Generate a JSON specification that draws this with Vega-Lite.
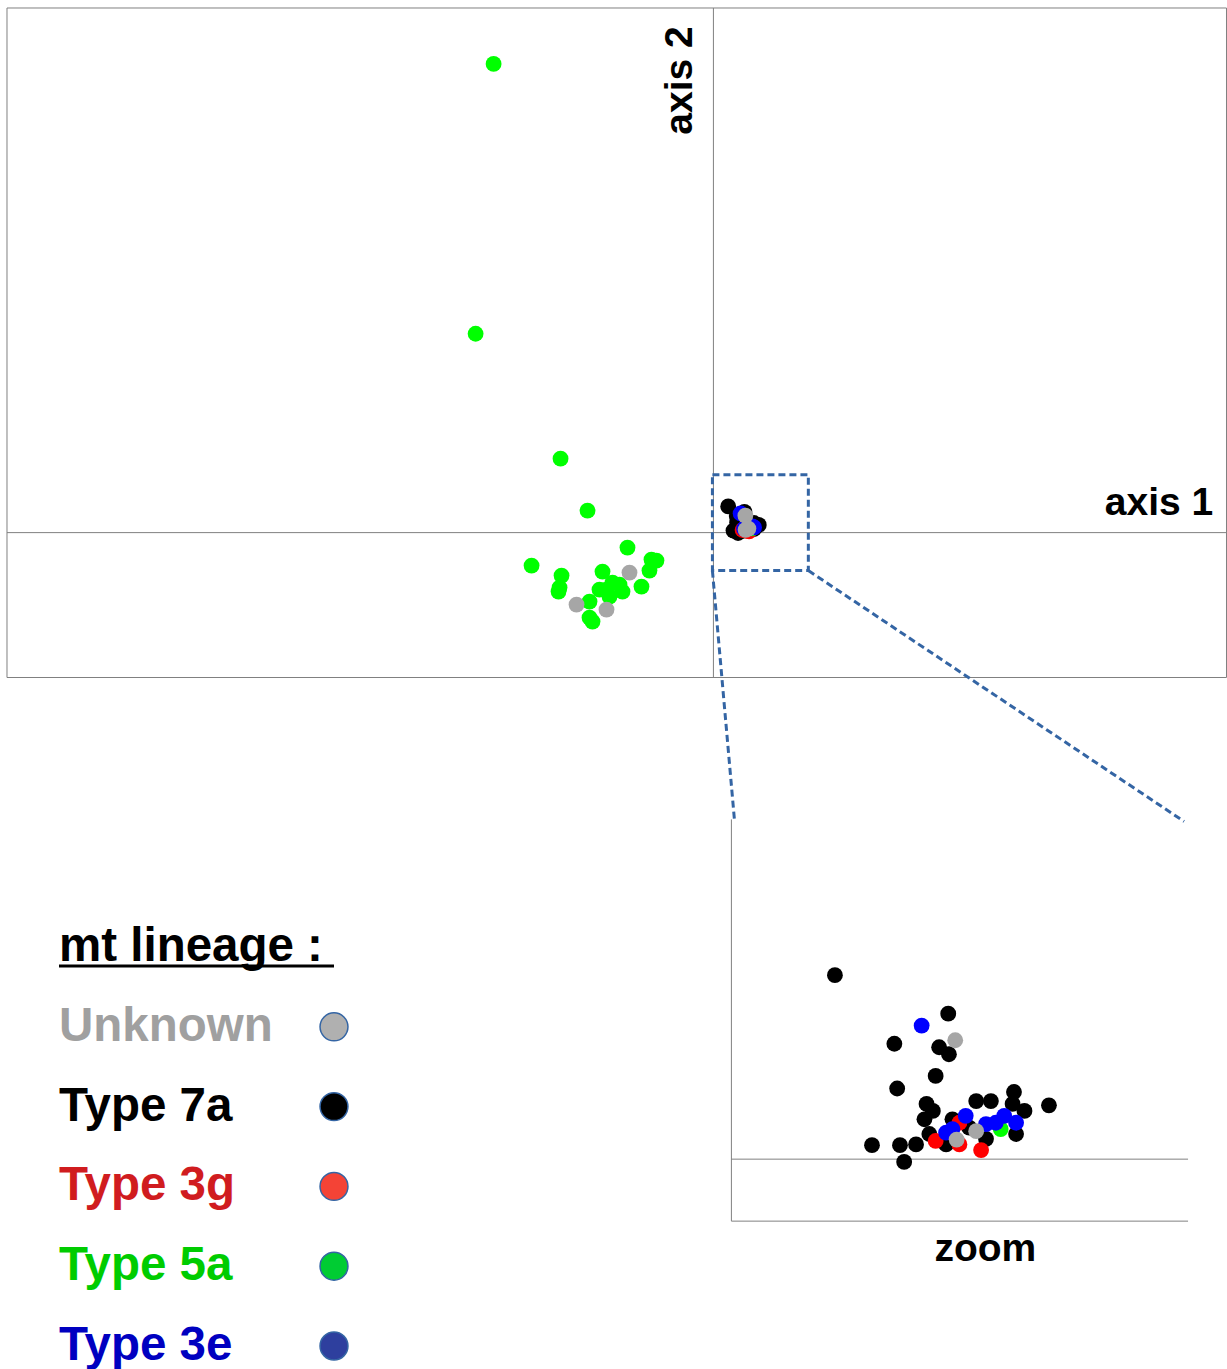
{
  "$schema": "https://vega.github.io/schema/vega-lite/v6.json",
  "width": 1227,
  "height": 1369,
  "autosize": {"type": "fit", "contains": "padding"},
  "padding": 0,
  "background": "white",
  "config": {"view": {"stroke": null}, "font": "Liberation Sans"},
  "datasets": {
    "pts": [
      {"x": 0.148, "y": 0.263, "lineage": "Type 7a"},
      {"x": 0.310, "y": 0.208, "lineage": "Type 7a"},
      {"x": 0.233, "y": 0.165, "lineage": "Type 7a"},
      {"x": 0.297, "y": 0.160, "lineage": "Type 7a"},
      {"x": 0.311, "y": 0.150, "lineage": "Type 7a"},
      {"x": 0.292, "y": 0.119, "lineage": "Type 7a"},
      {"x": 0.237, "y": 0.101, "lineage": "Type 7a"},
      {"x": 0.279, "y": 0.079, "lineage": "Type 7a"},
      {"x": 0.288, "y": 0.069, "lineage": "Type 7a"},
      {"x": 0.276, "y": 0.057, "lineage": "Type 7a"},
      {"x": 0.350, "y": 0.083, "lineage": "Type 7a"},
      {"x": 0.371, "y": 0.083, "lineage": "Type 7a"},
      {"x": 0.404, "y": 0.096, "lineage": "Type 7a"},
      {"x": 0.454, "y": 0.077, "lineage": "Type 7a"},
      {"x": 0.419, "y": 0.069, "lineage": "Type 7a"},
      {"x": 0.402, "y": 0.079, "lineage": "Type 7a"},
      {"x": 0.316, "y": 0.057, "lineage": "Type 7a"},
      {"x": 0.201, "y": 0.020, "lineage": "Type 7a"},
      {"x": 0.241, "y": 0.020, "lineage": "Type 7a"},
      {"x": 0.264, "y": 0.021, "lineage": "Type 7a"},
      {"x": 0.283, "y": 0.036, "lineage": "Type 7a"},
      {"x": 0.247, "y": -0.004, "lineage": "Type 7a"},
      {"x": 0.407, "y": 0.036, "lineage": "Type 7a"},
      {"x": 0.364, "y": 0.029, "lineage": "Type 7a"},
      {"x": 0.307, "y": 0.021, "lineage": "Type 7a"},
      {"x": 0.340, "y": 0.045, "lineage": "Type 7a"},
      {"x": 0.292, "y": 0.026, "lineage": "Type 3g"},
      {"x": 0.326, "y": 0.021, "lineage": "Type 3g"},
      {"x": 0.357, "y": 0.013, "lineage": "Type 3g"},
      {"x": 0.326, "y": 0.052, "lineage": "Type 3g"},
      {"x": -2.20, "y": 4.69, "lineage": "Type 5a"},
      {"x": -2.38, "y": 1.99, "lineage": "Type 5a"},
      {"x": -1.53, "y": 0.74, "lineage": "Type 5a"},
      {"x": -1.26, "y": 0.22, "lineage": "Type 5a"},
      {"x": -1.82, "y": -0.33, "lineage": "Type 5a"},
      {"x": -1.52, "y": -0.43, "lineage": "Type 5a"},
      {"x": -1.55, "y": -0.59, "lineage": "Type 5a"},
      {"x": -1.54, "y": -0.55, "lineage": "Type 5a"},
      {"x": -0.86, "y": -0.15, "lineage": "Type 5a"},
      {"x": -0.62, "y": -0.27, "lineage": "Type 5a"},
      {"x": -0.57, "y": -0.28, "lineage": "Type 5a"},
      {"x": -0.64, "y": -0.38, "lineage": "Type 5a"},
      {"x": -1.11, "y": -0.39, "lineage": "Type 5a"},
      {"x": -0.72, "y": -0.54, "lineage": "Type 5a"},
      {"x": -1.07, "y": -0.57, "lineage": "Type 5a"},
      {"x": -0.94, "y": -0.52, "lineage": "Type 5a"},
      {"x": -0.91, "y": -0.59, "lineage": "Type 5a"},
      {"x": -1.01, "y": -0.50, "lineage": "Type 5a"},
      {"x": -1.14, "y": -0.57, "lineage": "Type 5a"},
      {"x": -1.24, "y": -0.69, "lineage": "Type 5a"},
      {"x": -1.24, "y": -0.85, "lineage": "Type 5a"},
      {"x": -1.21, "y": -0.89, "lineage": "Type 5a"},
      {"x": -1.04, "y": -0.64, "lineage": "Type 5a"},
      {"x": 0.385, "y": 0.043, "lineage": "Type 5a"},
      {"x": 0.272, "y": 0.191, "lineage": "Type 3e"},
      {"x": 0.335, "y": 0.062, "lineage": "Type 3e"},
      {"x": 0.307, "y": 0.038, "lineage": "Type 3e"},
      {"x": 0.316, "y": 0.043, "lineage": "Type 3e"},
      {"x": 0.364, "y": 0.050, "lineage": "Type 3e"},
      {"x": 0.390, "y": 0.062, "lineage": "Type 3e"},
      {"x": 0.407, "y": 0.052, "lineage": "Type 3e"},
      {"x": 0.378, "y": 0.052, "lineage": "Type 3e"},
      {"x": -0.84, "y": -0.40, "lineage": "Unknown"},
      {"x": -1.37, "y": -0.72, "lineage": "Unknown"},
      {"x": -1.07, "y": -0.77, "lineage": "Unknown"},
      {"x": 0.320, "y": 0.170, "lineage": "Unknown"},
      {"x": 0.322, "y": 0.028, "lineage": "Unknown"},
      {"x": 0.350, "y": 0.040, "lineage": "Unknown"}
    ],
    "leg": [
      {"lineage": "Unknown"},
      {"lineage": "Type 7a"},
      {"lineage": "Type 3g"},
      {"lineage": "Type 5a"},
      {"lineage": "Type 3e"}
    ]
  },
  "layer": [
    {
      "layer": [
        {
          "data": {"values": [{}]},
          "mark": {"type": "rect", "filled": false, "color": "#808080", "strokeWidth": 1},
          "encoding": {
            "x": {"datum": -7.07, "type": "quantitative", "scale": {"domain": [-7.14, 5.13], "nice": false, "zero": false}, "axis": null},
            "x2": {"datum": 5.135},
            "y": {"datum": 5.25, "type": "quantitative", "scale": {"domain": [-8.36, 5.33], "nice": false, "zero": false}, "axis": null},
            "y2": {"datum": -1.45}
          }
        },
        {
          "data": {"values": [{}]},
          "mark": {"type": "rule", "color": "#808080", "strokeWidth": 1},
          "encoding": {
            "x": {"datum": 0, "type": "quantitative", "scale": {"domain": [-7.14, 5.13], "nice": false, "zero": false}, "axis": null},
            "y": {"datum": 5.25, "type": "quantitative", "scale": {"domain": [-8.36, 5.33], "nice": false, "zero": false}, "axis": null},
            "y2": {"datum": -1.45}
          }
        },
        {
          "data": {"values": [{}]},
          "mark": {"type": "rule", "color": "#808080", "strokeWidth": 1},
          "encoding": {
            "x": {"datum": -7.07, "type": "quantitative", "scale": {"domain": [-7.14, 5.13], "nice": false, "zero": false}, "axis": null},
            "x2": {"datum": 5.13},
            "y": {"datum": 0, "type": "quantitative", "scale": {"domain": [-8.36, 5.33], "nice": false, "zero": false}, "axis": null}
          }
        },
        {
          "data": {"values": [{}]},
          "mark": {"type": "text", "text": "axis 2", "angle": 270, "align": "center", "baseline": "middle", "fontSize": 39, "fontWeight": "bold", "color": "black"},
          "encoding": {
            "x": {"datum": -0.33, "type": "quantitative", "scale": {"domain": [-7.14, 5.13], "nice": false, "zero": false}, "axis": null},
            "y": {"datum": 4.525, "type": "quantitative", "scale": {"domain": [-8.36, 5.33], "nice": false, "zero": false}, "axis": null}
          }
        },
        {
          "data": {"values": [{}]},
          "mark": {"type": "text", "text": "axis 1", "align": "center", "baseline": "middle", "fontSize": 39, "fontWeight": "bold", "color": "black"},
          "encoding": {
            "x": {"datum": 4.46, "type": "quantitative", "scale": {"domain": [-7.14, 5.13], "nice": false, "zero": false}, "axis": null},
            "y": {"datum": 0.30, "type": "quantitative", "scale": {"domain": [-8.36, 5.33], "nice": false, "zero": false}, "axis": null}
          }
        },
        {
          "data": {"name": "pts"},
          "mark": {"type": "point", "filled": true, "opacity": 1, "size": 250, "strokeWidth": 0},
          "encoding": {
            "x": {"field": "x", "type": "quantitative", "scale": {"domain": [-7.14, 5.13], "nice": false, "zero": false}, "axis": null},
            "y": {"field": "y", "type": "quantitative", "scale": {"domain": [-8.36, 5.33], "nice": false, "zero": false}, "axis": null},
            "color": {"field": "lineage", "type": "nominal", "legend": null,
              "scale": {"domain": ["Unknown", "Type 7a", "Type 3g", "Type 5a", "Type 3e"], "range": ["#a6a6a6", "#000000", "#ff0000", "#00ff00", "#0000ff"]}}
          }
        },
        {
          "data": {"values": [{}]},
          "mark": {"type": "rect", "filled": false, "color": "#3465a4", "strokeWidth": 3, "strokeDash": [7, 4]},
          "encoding": {
            "x": {"datum": -0.01, "type": "quantitative", "scale": {"domain": [-7.14, 5.13], "nice": false, "zero": false}, "axis": null},
            "x2": {"datum": 0.95},
            "y": {"datum": 0.58, "type": "quantitative", "scale": {"domain": [-8.36, 5.33], "nice": false, "zero": false}, "axis": null},
            "y2": {"datum": -0.38}
          }
        },
        {
          "data": {"values": [{"x": -0.01, "y": -0.38, "x2": 0.21, "y2": -2.87}, {"x": 0.95, "y": -0.38, "x2": 4.71, "y2": -2.89}]},
          "mark": {"type": "rule", "color": "#3465a4", "strokeWidth": 3, "strokeDash": [7, 4]},
          "encoding": {
            "x": {"field": "x", "type": "quantitative", "scale": {"domain": [-7.14, 5.13], "nice": false, "zero": false}, "axis": null},
            "x2": {"field": "x2"},
            "y": {"field": "y", "type": "quantitative", "scale": {"domain": [-8.36, 5.33], "nice": false, "zero": false}, "axis": null},
            "y2": {"field": "y2"}
          }
        }
      ]
    },
    {
      "layer": [
        {
          "data": {"values": [{"x": 0, "y": 0.4857, "x2": 0, "y2": -0.0886}, {"x": 0, "y": -0.0886, "x2": 0.6529, "y2": -0.0886}, {"x": 0, "y": 0, "x2": 0.6529, "y2": 0}]},
          "mark": {"type": "rule", "color": "#808080", "strokeWidth": 1},
          "encoding": {
            "x": {"field": "x", "type": "quantitative", "scale": {"domain": [-1.045714, 0.707143], "nice": false, "zero": false}, "axis": null},
            "x2": {"field": "x2"},
            "y": {"field": "y", "type": "quantitative", "scale": {"domain": [-0.298571, 1.657143], "nice": false, "zero": false}, "axis": null},
            "y2": {"field": "y2"}
          }
        },
        {
          "data": {"values": [{}]},
          "mark": {"type": "text", "text": "zoom", "align": "center", "baseline": "middle", "fontSize": 39, "fontWeight": "bold", "color": "black"},
          "encoding": {
            "x": {"datum": 0.363, "type": "quantitative", "scale": {"domain": [-1.045714, 0.707143], "nice": false, "zero": false}, "axis": null},
            "y": {"datum": -0.1286, "type": "quantitative", "scale": {"domain": [-0.298571, 1.657143], "nice": false, "zero": false}, "axis": null}
          }
        },
        {
          "data": {"name": "pts"},
          "transform": [{"filter": "datum.x > 0"}],
          "mark": {"type": "point", "filled": true, "opacity": 1, "size": 250, "strokeWidth": 0},
          "encoding": {
            "x": {"field": "x", "type": "quantitative", "scale": {"domain": [-1.045714, 0.707143], "nice": false, "zero": false}, "axis": null},
            "y": {"field": "y", "type": "quantitative", "scale": {"domain": [-0.298571, 1.657143], "nice": false, "zero": false}, "axis": null},
            "color": {"field": "lineage", "type": "nominal", "legend": null,
              "scale": {"domain": ["Unknown", "Type 7a", "Type 3g", "Type 5a", "Type 3e"], "range": ["#a6a6a6", "#000000", "#ff0000", "#00ff00", "#0000ff"]}}
          }
        }
      ]
    },
    {
      "layer": [
        {
          "data": {"values": [{}]},
          "mark": {"type": "text", "text": "mt lineage :", "align": "left", "baseline": "middle", "fontSize": 47.5, "fontWeight": "bold", "color": "black"},
          "encoding": {
            "x": {"datum": "text", "type": "ordinal", "scale": {"type": "point", "domain": ["text", "symbol"], "range": [59, 334], "padding": 0}, "axis": null},
            "y": {"datum": "title", "type": "ordinal", "scale": {"type": "point", "domain": ["title", "Unknown", "Type 7a", "Type 3g", "Type 5a", "Type 3e"], "range": [947, 1346], "padding": 0}, "axis": null}
          }
        },
        {
          "data": {"values": [{}]},
          "mark": {"type": "rule", "color": "black", "strokeWidth": 3, "yOffset": 19},
          "encoding": {
            "x": {"datum": "text", "type": "ordinal", "scale": {"type": "point", "domain": ["text", "symbol"], "range": [59, 334], "padding": 0}, "axis": null},
            "x2": {"datum": "symbol"},
            "y": {"datum": "title", "type": "ordinal", "scale": {"type": "point", "domain": ["title", "Unknown", "Type 7a", "Type 3g", "Type 5a", "Type 3e"], "range": [947, 1346], "padding": 0}, "axis": null}
          }
        },
        {
          "data": {"name": "leg"},
          "mark": {"type": "text", "align": "left", "baseline": "middle", "fontSize": 47.5, "fontWeight": "bold"},
          "encoding": {
            "x": {"datum": "text", "type": "ordinal", "scale": {"type": "point", "domain": ["text", "symbol"], "range": [59, 334], "padding": 0}, "axis": null},
            "y": {"field": "lineage", "type": "ordinal", "scale": {"type": "point", "domain": ["title", "Unknown", "Type 7a", "Type 3g", "Type 5a", "Type 3e"], "range": [947, 1346], "padding": 0}, "axis": null},
            "text": {"field": "lineage"},
            "color": {"field": "lineage", "type": "nominal", "legend": null,
              "scale": {"domain": ["Unknown", "Type 7a", "Type 3g", "Type 5a", "Type 3e"], "range": ["#a0a0a0", "#000000", "#d01c1f", "#00cc00", "#0000c0"]}}
          }
        },
        {
          "data": {"name": "leg"},
          "mark": {"type": "point", "filled": true, "opacity": 1, "size": 780, "stroke": "#3465a4", "strokeWidth": 1.5},
          "encoding": {
            "x": {"datum": "symbol", "type": "ordinal", "scale": {"type": "point", "domain": ["text", "symbol"], "range": [59, 334], "padding": 0}, "axis": null},
            "y": {"field": "lineage", "type": "ordinal", "scale": {"type": "point", "domain": ["title", "Unknown", "Type 7a", "Type 3g", "Type 5a", "Type 3e"], "range": [947, 1346], "padding": 0}, "axis": null},
            "fill": {"field": "lineage", "type": "nominal", "legend": null,
              "scale": {"domain": ["Unknown", "Type 7a", "Type 3g", "Type 5a", "Type 3e"], "range": ["#b0b0b0", "#000000", "#f44336", "#00cc33", "#2e3f9e"]}}
          }
        }
      ],
      "resolve": {"scale": {"color": "independent", "fill": "independent"}}
    }
  ],
  "resolve": {"scale": {"x": "independent", "y": "independent", "color": "independent", "fill": "independent"}}
}
